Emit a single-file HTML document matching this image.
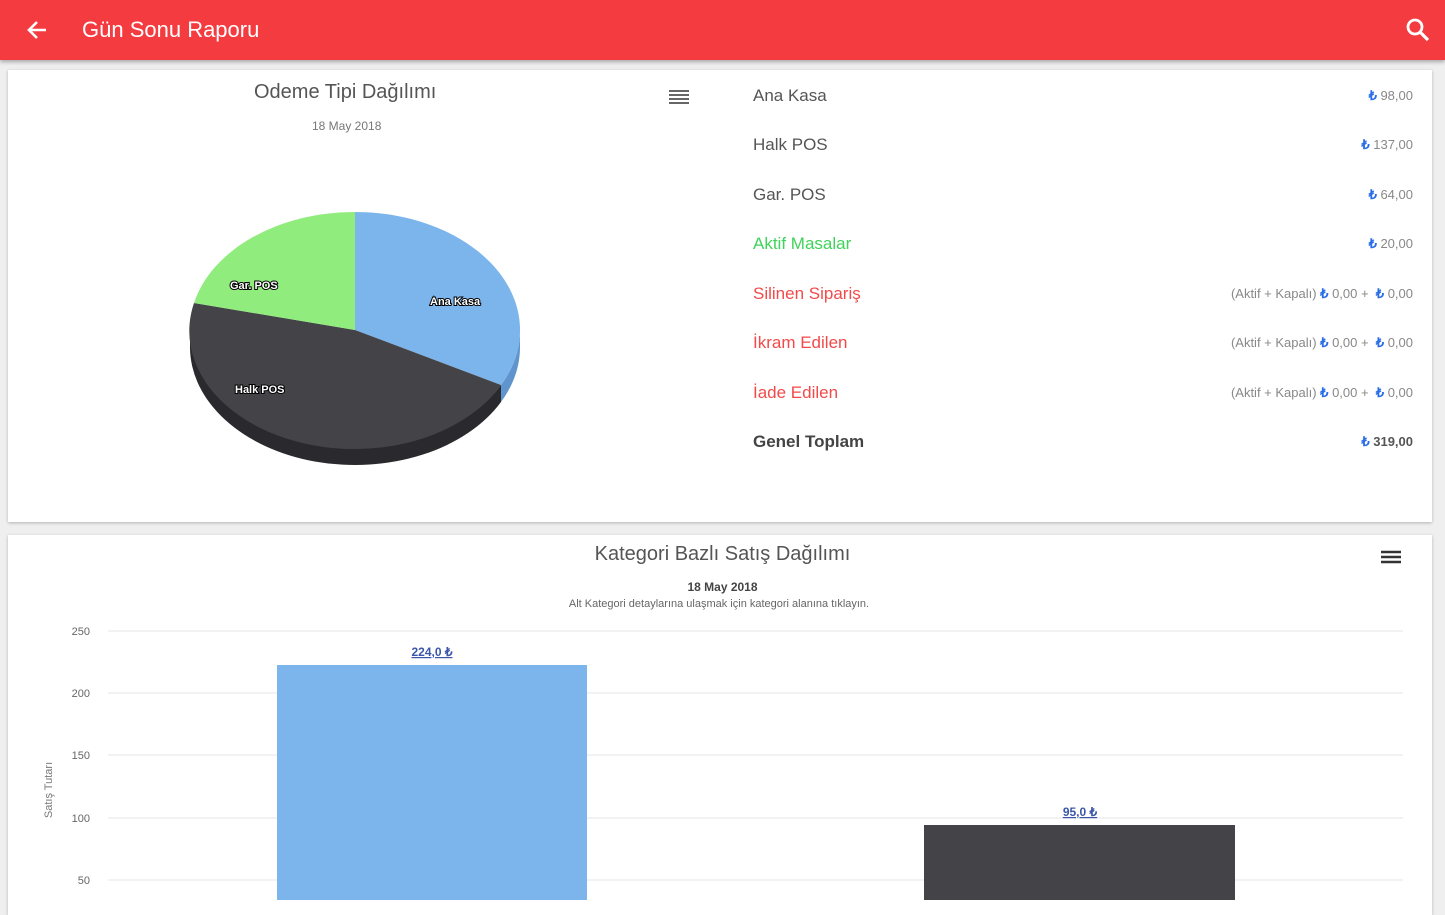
<!DOCTYPE html>
<html><head><meta charset="utf-8"><style>
body{margin:0;width:1445px;height:900px;overflow:hidden;background:#efefef;font-family:"Liberation Sans",sans-serif;position:relative}
.hdr{position:absolute;left:0;top:0;width:1445px;height:60px;background:#f43b3f;box-shadow:0 2px 4px rgba(0,0,0,.3)}
.card{position:absolute;background:#fff;box-shadow:0 1px 3px rgba(0,0,0,.25)}
.t{position:absolute;white-space:nowrap}
.row{position:absolute;left:753px;width:660px;height:20px;font-size:17px;color:#555}
.row .v{position:absolute;right:0;top:2px;font-size:13px;color:#888}
.l{color:#2a6de8;font-weight:bold}
</style></head><body>
<div class="hdr">
<svg style="position:absolute;left:26px;top:19px" width="22" height="22" viewBox="0 0 22 22"><path d="M20 11H4M11 3L3 11L11 19" stroke="#fff" stroke-width="2.6" fill="none"/></svg>
<div class="t" style="left:82px;top:17px;color:#fff;font-size:22px">Gün Sonu Raporu</div>
<svg style="position:absolute;left:1405px;top:17px" width="26" height="26" viewBox="0 0 26 26"><circle cx="10" cy="10" r="7" stroke="#fff" stroke-width="2.8" fill="none"/><path d="M15 15L23 23" stroke="#fff" stroke-width="3.2"/></svg>
</div>
<div class="card" style="left:8px;top:70px;width:1424px;height:452px"></div>
<div class="card" style="left:8px;top:535px;width:1424px;height:380px"></div>
<div class="t" style="left:254px;top:81px;font-size:20px;color:#555">Odeme Tipi Dağılımı</div>
<div class="t" style="left:312px;top:119px;font-size:12px;color:#777">18 May 2018</div>
<svg style="position:absolute;left:669px;top:89px" width="20" height="16"><path d="M0 2H20M0 6H20M0 10H20M0 14H20" stroke="#666" stroke-width="2"/></svg>
<svg style="position:absolute;left:0;top:0" width="720" height="520">
<path d="M501,385 A165,118 0 0 1 190,330 L190,347 A165,118 0 0 0 501,402 Z" fill="#2a2a2e"/>
<path d="M520,330 A165,118 0 0 1 501,385 L501,402 A165,118 0 0 0 520,347 Z" fill="#5f95cc"/>
<path d="M355,330 L355,212 A165,118 0 0 1 501,385 Z" fill="#7cb5ec"/>
<path d="M355,330 L501,385 A165,118 0 0 1 194,303 Z" fill="#434348"/>
<path d="M355,330 L194,303 A165,118 0 0 1 355,212 Z" fill="#90ed7d"/>
<g font-size="11" font-weight="bold" fill="#fff" stroke="#000" stroke-width="2" paint-order="stroke" font-family="Liberation Sans">
<text x="430" y="305">Ana Kasa</text><text x="230" y="289">Gar. POS</text><text x="235" y="393">Halk POS</text></g>
</svg>
<div class="row" style="top:86px">Ana Kasa<span class="v"><span class="l">₺</span> 98,00</span></div>
<div class="row" style="top:135px">Halk POS<span class="v"><span class="l">₺</span> 137,00</span></div>
<div class="row" style="top:185px">Gar. POS<span class="v"><span class="l">₺</span> 64,00</span></div>
<div class="row" style="top:234px;color:#3ed35a">Aktif Masalar<span class="v"><span class="l">₺</span> 20,00</span></div>
<div class="row" style="top:284px;color:#f24a4a">Silinen Sipariş<span class="v">(Aktif + Kapalı) <span class="l">₺</span> 0,00 + &nbsp;<span class="l">₺</span> 0,00</span></div>
<div class="row" style="top:333px;color:#f24a4a">İkram Edilen<span class="v">(Aktif + Kapalı) <span class="l">₺</span> 0,00 + &nbsp;<span class="l">₺</span> 0,00</span></div>
<div class="row" style="top:383px;color:#f24a4a">İade Edilen<span class="v">(Aktif + Kapalı) <span class="l">₺</span> 0,00 + &nbsp;<span class="l">₺</span> 0,00</span></div>
<div class="row" style="top:432px;font-weight:bold;color:#444">Genel Toplam<span class="v" style="font-weight:bold;color:#555"><span class="l">₺</span> 319,00</span></div>
<div class="t" style="left:0;width:1445px;text-align:center;top:543px;font-size:20px;color:#555">Kategori Bazlı Satış Dağılımı</div>
<svg style="position:absolute;left:1381px;top:550px" width="20" height="16"><path d="M0 2H20M0 7H20M0 12H20" stroke="#333" stroke-width="2.4"/></svg>
<div class="t" style="left:0;width:1445px;text-align:center;top:580px;font-size:12px;font-weight:bold;color:#444">18 May 2018</div>
<div class="t" style="left:0;width:1438px;text-align:center;top:598px;font-size:11px;color:#666">Alt Kategori detaylarına ulaşmak için kategori alanına tıklayın.</div>
<svg style="position:absolute;left:0;top:0" width="1445" height="900" font-family="Liberation Sans">
<g stroke="#e6e6e6" stroke-width="1"><path d="M108 631H1403M108 693H1403M108 755H1403M108 818H1403M108 880H1403"/></g>
<g font-size="11" fill="#666" text-anchor="end"><text x="90" y="635">250</text><text x="90" y="697">200</text><text x="90" y="759">150</text><text x="90" y="822">100</text><text x="90" y="884">50</text></g>
<text transform="translate(52,790) rotate(-90)" font-size="11" fill="#777" text-anchor="middle">Satış Tutarı</text>
<rect x="277" y="665" width="310" height="240" fill="#7cb5ec"/>
<rect x="924" y="825" width="311" height="80" fill="#434348"/>
<g font-size="12" font-weight="bold" fill="#3b56a8" text-anchor="middle" text-decoration="underline"><text x="432" y="656">224,0 ₺</text><text x="1080" y="816">95,0 ₺</text></g>
</svg>
</body></html>
